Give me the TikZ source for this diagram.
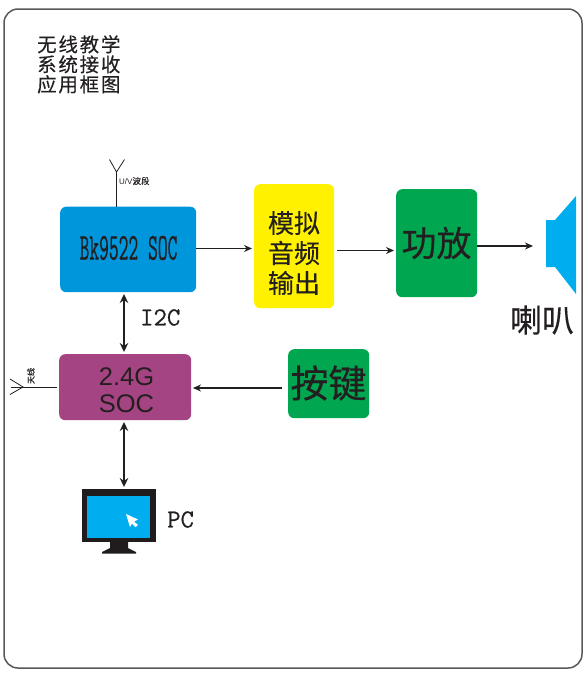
\documentclass[tikz,border=0pt]{standalone}
\usepackage{fontspec}
\setmainfont{Liberation Sans}
\newfontfamily\cjk{Noto Sans CJK SC}[FakeBold=0.25]
\newfontfamily\cjktitle{Noto Sans CJK SC}[FakeBold=0.3,LetterSpace=9]
\newfontfamily\slab{Latin Modern Mono}[FakeBold=0.6]
\definecolor{bkblue}{HTML}{0096DC}
\definecolor{cyanb}{HTML}{00AEEF}
\definecolor{ylw}{HTML}{FFF100}
\definecolor{grn}{HTML}{00A650}
\definecolor{plum}{HTML}{A54482}
\definecolor{ink}{HTML}{231F20}
\usetikzlibrary{arrows.meta}
\tikzset{
  x=1pt,y=-1pt,
  block/.style={rounded corners=6pt,inner sep=0pt,text=ink,align=center,anchor=north west},
  link/.style={draw=ink,line width=1.2pt,-{Stealth[length=8pt,width=7pt]}},
  both/.style={draw=ink,line width=1.3pt,{Stealth[length=9pt,width=8.5pt]}-{Stealth[length=9pt,width=8.5pt]}},
  aerial/.style={draw=ink,line width=0.8pt},
  cn/.style={font=\cjk,text=ink,align=center,inner sep=0pt},
  mono/.style={font=\slab,text=ink,inner sep=0pt}
}
\begin{document}
\begin{tikzpicture}
\useasboundingbox (0,0) rectangle (588,680);
\draw[draw=ink!75,line width=1.5pt,rounded corners=14pt] (4,9) rectangle (582,668);

\node[cn,font=\cjktitle\fontsize{19.5}{20}\selectfont,anchor=north west] (title) at (37,35) {无线教学\\系统接收\\应用框图};

\node[block,fill=bkblue,minimum width=136pt,minimum height=85.5pt] (bk) at (60,206.5) {};
\node[mono,xscale=0.5,font=\slab\fontsize{38}{38}\selectfont] (bktext) at (128.5,248) {Bk9522 SOC};
\node[block,fill=ylw,minimum width=80pt,minimum height=124pt] (audio) at (254,184) {};
\node[cn,font=\cjk\fontsize{26}{30}\selectfont] (audiotext) at (294,253) {模拟\\音频\\输出};
\node[block,fill=grn,minimum width=81pt,minimum height=108pt] (amp) at (396,189) {};
\node[cn,font=\cjk\fontsize{35}{35}\selectfont] (amptext) at (436.5,243) {功放};
\node[block,fill=plum,minimum width=132pt,minimum height=66pt] (soc) at (59,354) {};
\node[text=ink,align=center,inner sep=0pt,font=\fontsize{25.5}{27}\selectfont] (soctext) at (126.5,390.5) {2.4G\\SOC};
\node[block,fill=grn,minimum width=81pt,minimum height=69pt] (key) at (288,349) {};
\node[cn,font=\cjk\fontsize{38}{38}\selectfont] (keytext) at (328.5,383) {按键};

% speaker
\fill[cyanb] (546,220) -- (555,220) -- (576,196) -- (576,294) -- (555,267) -- (546,267) -- cycle;
\coordinate (spk) at (533,246);
\node[cn,font=\cjk\fontsize{32}{32}\selectfont] (spklabel) at (542,320) {喇叭};

% connectors
\coordinate (bkout) at (196,248.5);
\coordinate (audin) at (252,248.5);
\draw[link] (bkout) -- (audin);
\coordinate (audout) at (337,250.5);
\coordinate (ampin) at (394,250.5);
\draw[link] (audout) -- (ampin);
\coordinate (ampout) at (477,246);
\draw[link] (ampout) -- (spk);
\coordinate (i2ca) at (124,294);
\coordinate (i2cb) at (124,352);
\draw[both] (i2ca) -- (i2cb);
\node[mono,font=\slab\fontsize{26}{26}\selectfont,anchor=west] (i2c) at (140,317.5) {I2C};
\coordinate (keyout) at (282,388);
\coordinate (socin) at (193,388);
\draw[link] (keyout) -- (socin);
\coordinate (soca) at (124,422);
\coordinate (pcb) at (124,487);
\draw[both] (soca) -- (pcb);

% top antenna
\coordinate (ant1) at (116.5,172);
\draw[aerial] (bk.north west -| ant1) -- (ant1);
\draw[aerial] (109.5,159.5) -- (116.5,172) -- (124.5,159.5);
\node[inner sep=0pt,text=ink,anchor=west] (uv) at (119,181) {\fontsize{8}{8}\selectfont U/V\cjk\fontsize{8.5}{8}\selectfont 波段};

% left antenna
\coordinate (ant2) at (23,387);
\draw[aerial] (57,387) -- (11,387);
\draw[aerial] (10,379) -- (23,387) -- (10,394.5);
\node[cn,rotate=90,font=\cjk\fontsize{8}{8}\selectfont,anchor=center] (tx) at (31,376) {天线};

% PC
\fill[ink!90!black] (82,489) rectangle (156,542);
\fill[cyanb] (87,496) rectangle (150,538);
\fill[ink!90!black] (110,542) -- (128,542) -- (128,548) -- (136,552) -- (136,553.5) -- (102,553.5) -- (102,552) -- (110,548) -- cycle;
\fill[white] (126,514) -- (138,519.5) -- (134,521.5) -- (138,525) -- (135.5,527) -- (132,523.5) -- (130,527) -- cycle;
\node[mono,font=\slab\fontsize{26}{26}\selectfont,anchor=west] (pc) at (167,519.5) {PC};
\end{tikzpicture}
\end{document}
